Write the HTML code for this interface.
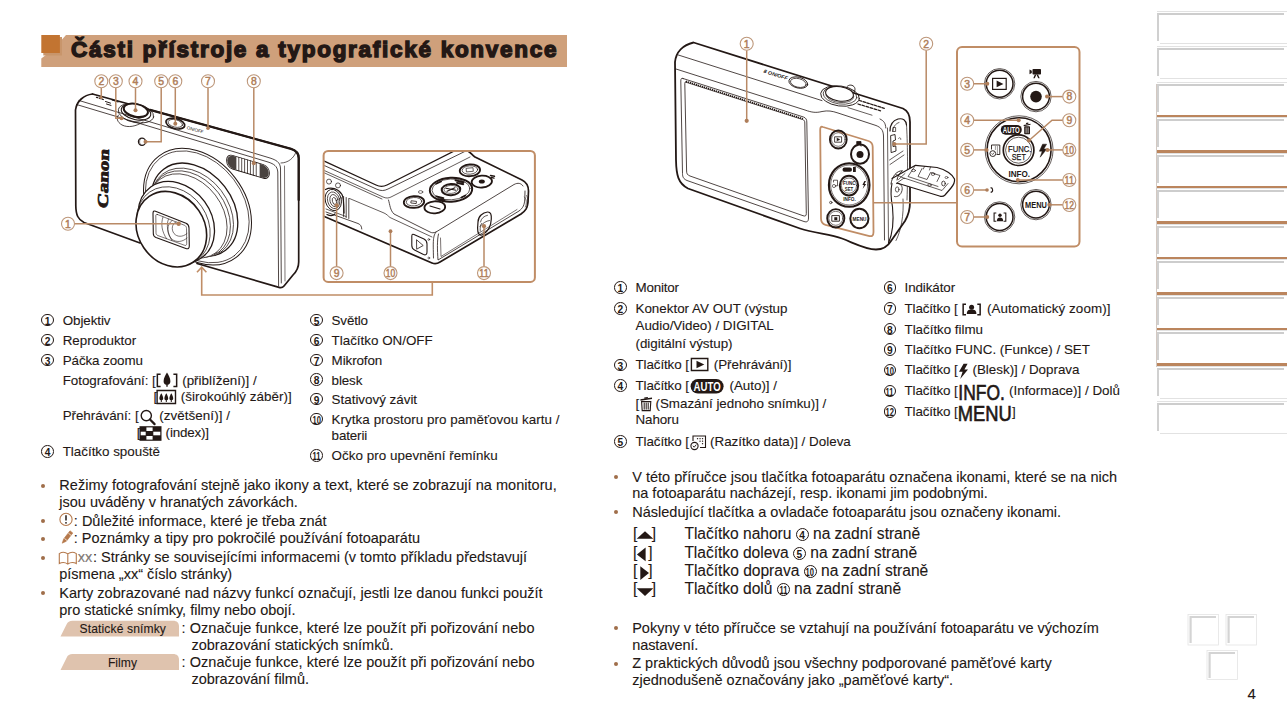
<!DOCTYPE html>
<html lang="cs">
<head>
<meta charset="utf-8">
<title>Části přístroje a typografické konvence</title>
<style>
html,body{margin:0;padding:0;background:#fff;}
body{width:1287px;height:720px;position:relative;overflow:hidden;font-family:"Liberation Sans",sans-serif;color:#231815;}
.abs{position:absolute;white-space:nowrap;}
.t,.b,.k,.tab,.pg{position:absolute;white-space:nowrap;color:#231815;-webkit-text-stroke:0.1px #231815;}
.t{font-size:13.4px;line-height:16px;}
.b{font-size:14.5px;line-height:17px;}
.k{font-size:15.6px;line-height:18px;}
.tab{font-size:12.1px;line-height:14px;}
.pg{font-size:15px;line-height:18px;}
.cn{display:inline-block;box-sizing:border-box;width:12.6px;height:12.6px;border:1px solid #231815;border-radius:50%;font-size:10.2px;line-height:13.2px;text-align:center;font-weight:bold;letter-spacing:-0.5px;text-indent:-0.5px;color:#231815;}
.ci{vertical-align:0.1px;width:13px;height:13px;line-height:13.4px;font-size:10.2px;-webkit-text-stroke:0;}
.cn i{display:inline-block;font-style:normal;transform:scaleX(0.74);letter-spacing:0;text-indent:0;margin:0 -3px;}
.bu{position:absolute;width:4px;height:4px;border-radius:50%;background:#a06e4a;}
#title{position:absolute;left:71px;top:35px;font-size:22.5px;line-height:30px;font-weight:bold;color:#231815;letter-spacing:1.72px;-webkit-text-stroke:1.45px #231815;white-space:nowrap;}
#svg{position:absolute;left:0;top:0;}
.tb{position:absolute;left:1157px;width:127px;height:28px;box-sizing:border-box;border-top:2px solid #cdcdcd;border-left:2.5px solid #d0d0d0;}
.tl{position:absolute;left:1157px;width:130px;height:1px;background:#e2e2e2;}
.bl{position:absolute;left:1156px;width:131px;height:2.8px;background:#bb855d;}

</style>
</head>
<body>
<svg class="abs" style="left:0;top:0" width="1287" height="720" viewBox="0 0 1287 720">
<polygon points="66,35 567,35 567,67 41.3,67 41.3,58.5 46.5,54.5 62,54.5 62,39.5" fill="#cfa07b"/>
<rect x="43.3" y="37" width="18.7" height="18.5" fill="#c8956b"/>
<rect x="41.3" y="35" width="18.6" height="18" fill="#c27431"/>
<g id="icons" fill="#231815" stroke="none">
<!-- tele icon -->
<path d="M156.6,373.6 h4 v1.5 h-2.5 v10.6 h2.5 v1.5 h-4 Z M177.4,373.6 h-4 v1.5 h2.5 v10.6 h-2.5 v1.5 h4 Z"/>
<path d="M167,372.6 c1.3,2 3.4,5.8 3.4,8.6 c0,2.2 -1.2,3.3 -2.7,3.5 v2 h-1.4 v-2 c-1.5,-0.2 -2.7,-1.3 -2.7,-3.5 c0,-2.8 2.1,-6.600 3.400,-8.600 Z"/>
<!-- wide icon -->
<path d="M156.4,389.8 h19.800 v14.400 h-19.800 Z M157.800,391.200 v11.600 h17 v-11.600 Z" fill-rule="evenodd"/>
<path d="M161.300,393.200 c0.800,1.300 1.900,3.400 1.900,5 c0,1.300 -0.600,1.900 -1.400,2.100 v1.700 h-1 v-1.700 c-0.800,-0.200 -1.400,-0.800 -1.400,-2.100 c0,-1.600 1.100,-3.700 1.900,-5 Z"/>
<path d="M166.300,393.200 c0.800,1.300 1.900,3.400 1.900,5 c0,1.300 -0.600,1.900 -1.400,2.100 v1.700 h-1 v-1.700 c-0.800,-0.200 -1.400,-0.800 -1.400,-2.100 c0,-1.600 1.100,-3.700 1.900,-5 Z"/>
<path d="M171.300,393.200 c0.800,1.300 1.900,3.400 1.900,5 c0,1.300 -0.600,1.900 -1.400,2.100 v1.700 h-1 v-1.700 c-0.800,-0.200 -1.400,-0.800 -1.400,-2.100 c0,-1.600 1.100,-3.700 1.900,-5 Z"/>
<!-- magnifier -->
<circle cx="146.300" cy="415.600" r="5.100" fill="none" stroke="#231815" stroke-width="1.400"/>
<path d="M150,419.500 l4.600,4.600" stroke="#231815" stroke-width="2.200" stroke-linecap="round"/>
<!-- index icon -->
<rect x="139.500" y="426.200" width="22" height="14.600" />
<g fill="#fff"><rect x="146.400" y="427.400" width="6.200" height="3.600"/><rect x="140.700" y="431.700" width="5" height="3.600"/><rect x="153.300" y="431.700" width="7" height="3.600"/><rect x="146.400" y="436" width="6.200" height="3.600"/></g>
<!-- playback icon -->
<path d="M690.700,357.800 h17.800 v13.400 h-17.800 Z M692.100,359.200 v10.600 h15 v-10.600 Z" fill-rule="evenodd"/>
<path d="M696.500,360.800 l7.800,3.700 l-7.800,3.700 Z"/>
<!-- AUTO pill -->
<rect x="690.600" y="379" width="33" height="14.600" rx="7.300"/>
<!-- trash -->
<path d="M641.600,401.600 h9.200 l-0.600,9 h-8 Z" fill="#fff" stroke="#231815" stroke-width="1.100"/><path d="M640.300,399.200 l11.600,-1.600 l0.200,1.500 l-11.600,1.600 Z M644.200,397.400 l3.600,-0.500 l0.150,1.200 l-3.600,0.500 Z"/>
<path d="M644.200,402.600 v7 M646.200,402.600 v7 M648.200,402.600 v7" stroke="#231815" stroke-width="1"/>
<!-- date stamp -->
<path d="M693,441 V436 H705.500 V447.500 H700" fill="none" stroke="#231815" stroke-width="1.100"/>
<path d="M697.500,438.700 h0.100 M700,438.700 h0.100 M702.500,438.700 h0.100 M700,441.200 h0.100 M702.500,441.200 h0.100 M702.500,443.700 h0.100" stroke="#231815" stroke-width="1.300" stroke-linecap="round"/>
<circle cx="694.500" cy="446" r="3.600" fill="#fff" stroke="#231815" stroke-width="1.100"/><path d="M692.900,445.800 l1.300,1.400 l2.100,-2.600" fill="none" stroke="#231815" stroke-width="0.900"/>
<!-- auto zoom icon -->
<path d="M966,303.500 h-3.600 v12 h3.600 v-1.500 h-2.100 v-9 h2.100 Z M977.300,303.500 h3.600 v12 h-3.600 v-1.500 h2.100 v-9 h-2.100 Z"/>
<circle cx="971.600" cy="307.300" r="2.500"/><path d="M966.800,314 c0,-3.600 2,-4.400 4.800,-4.400 c2.800,0 4.800,0.800 4.800,4.400 Z"/>
<!-- flash -->
<path d="M963.600,363.800 L959,371.800 L962.600,371.800 L960.200,379 L968,369.400 L964.400,369.400 L967.600,363.800 Z"/>
<!-- arrows -->
<path d="M645,531.200 l8.300,7.600 h-16.600 Z"/>
<path d="M636.900,554.400 l8.700,-6.800 v13.600 Z"/>
<path d="M649,573.100 l-8.700,-6.800 v13.600 Z"/>
<path d="M645,596 l8.300,-7.800 h-16.600 Z"/>
</g>
<g font-family="Liberation Sans, sans-serif" fill="#231815">
<text x="707.100" y="391.300" font-size="13.500" font-weight="bold" fill="#fff" text-anchor="middle" textLength="27" lengthAdjust="spacingAndGlyphs">AUTO</text>
<text x="958.300" y="399.600" font-size="22" textLength="46.500" lengthAdjust="spacingAndGlyphs" stroke="#231815" stroke-width="0.650">INFO.</text>
<text x="957.800" y="420.500" font-size="22" textLength="54" lengthAdjust="spacingAndGlyphs" stroke="#231815" stroke-width="0.650">MENU</text>
</g>
<!-- caution, pencil, book -->
<g fill="none" stroke="#b5794c">
<circle cx="66" cy="519.400" r="6.100" stroke-width="1.100"/>
<path d="M66,515.300 v5.200" stroke="#231815" stroke-width="1.500"/><circle cx="66" cy="522.800" r="0.900" fill="#231815" stroke="none"/>
<path d="M62.200,543.200 l1.400,-4.200 l6.400,-8.200 l2.800,2.200 l-6.400,8.200 Z" fill="#b5794c" stroke-width="0.600"/>
<path d="M64.500,538.500 l2.700,2.100 M68.400,533.200 l2.700,2.100" stroke="#fff" stroke-width="0.700"/>
<path d="M59.300,553.600 c2.600,-1.700 5.800,-1.700 8.500,0.300 c2.700,-2 5.900,-2 8.500,-0.300 v10 c-2.600,-1.400 -5.800,-1.400 -8.500,0.500 c-2.700,-1.900 -5.900,-1.900 -8.500,-0.500 Z M67.800,554 v10" stroke-width="1.1"/>
</g>
<!-- tab shapes -->
<path d="M60.500,636.600 L66.500,624.500 C67.800,621.800 69.500,620.700 72.500,620.700 L173,620.700 C177,620.700 179,622.700 179,626.700 L179,636.600 Z" fill="#dfc3ae"/>
<path d="M60.500,670 L66.500,657.900 C67.800,655.200 69.500,654.100 72.500,654.100 L173,654.100 C177,654.100 179,656.100 179,660.100 L179,670 Z" fill="#dfc3ae"/>
<!-- nav squares -->
<g fill="#fff" stroke="#e4e4e4" stroke-width="0.800">
<rect x="1188" y="614.500" width="30.500" height="30.500"/><rect x="1226" y="614.500" width="30.500" height="30.500"/><rect x="1207" y="650.500" width="30.500" height="29"/>
</g>
<g fill="none" stroke="#d4d4d4" stroke-width="2.200">
<path d="M1190.600,643 V617 H1216"/><path d="M1228.600,643 V617 H1254"/><path d="M1209.600,678 V653 H1235"/>
</g>

</svg>
<div id="title">Části přístroje a typografické konvence</div>
<div class="tl" style="top:10.7px"></div>
<div class="tb" style="top:12.9px"></div>
<div class="tl" style="top:42.9px;left:1160px"></div>
<div class="tl" style="top:46.2px"></div>
<div class="tb" style="top:48.4px"></div>
<div class="tl" style="top:78.4px;left:1160px"></div>
<div class="tl" style="top:81.7px"></div>
<div class="tb" style="top:83.9px"></div>
<div class="tl" style="top:117.2px"></div>
<div class="tb" style="top:119.4px"></div>
<div class="bl" style="top:114.5px"></div>
<div class="tl" style="top:152.7px"></div>
<div class="tb" style="top:154.9px"></div>
<div class="bl" style="top:150.0px"></div>
<div class="tl" style="top:188.2px"></div>
<div class="tb" style="top:190.4px"></div>
<div class="bl" style="top:185.5px"></div>
<div class="tl" style="top:223.7px"></div>
<div class="tb" style="top:225.9px"></div>
<div class="bl" style="top:221.0px"></div>
<div class="tl" style="top:259.2px"></div>
<div class="tb" style="top:261.4px"></div>
<div class="bl" style="top:256.5px"></div>
<div class="tl" style="top:294.7px"></div>
<div class="tb" style="top:296.9px"></div>
<div class="bl" style="top:292.0px"></div>
<div class="tl" style="top:330.2px"></div>
<div class="tb" style="top:332.4px"></div>
<div class="bl" style="top:327.5px"></div>
<div class="tl" style="top:365.7px"></div>
<div class="tb" style="top:367.9px"></div>
<div class="bl" style="top:363.0px"></div>
<div class="tl" style="top:397.9px;left:1160px"></div>
<div class="tl" style="top:401.2px"></div>
<div class="tb" style="top:403.4px"></div>
<div class="tl" style="top:433.4px;left:1160px"></div>
<div style="position:absolute;left:1156px;top:84px;width:1px;height:283px;background:#d3c9c2"></div>
<div class="t" style="left:62.7px;top:312.8px;letter-spacing:-0.084px;">Objektiv</div>
<div class="t" style="left:62.7px;top:332.8px;letter-spacing:-0.018px;">Reproduktor</div>
<div class="t" style="left:62.7px;top:352.8px;letter-spacing:-0.086px;">Páčka zoomu</div>
<div class="t" style="left:62.7px;top:444.3px;letter-spacing:-0.013px;">Tlačítko spouště</div>
<div class="t" style="left:62.7px;top:372.5px;letter-spacing:-0.044px;">Fotografování: [</div>
<div class="t" style="left:182.2px;top:372.5px;letter-spacing:0.005px;">(přiblížení)] /</div>
<div class="t" style="left:153.6px;top:388.5px;letter-spacing:0.000px;">[</div>
<div class="t" style="left:180.7px;top:388.5px;letter-spacing:0.050px;">(širokoúhlý záběr)]</div>
<div class="t" style="left:62.7px;top:408.3px;letter-spacing:-0.059px;">Přehrávání: [</div>
<div class="t" style="left:159.3px;top:408.3px;letter-spacing:0.057px;">(zvětšení)] /</div>
<div class="t" style="left:136.7px;top:424.8px;letter-spacing:0.000px;">[</div>
<div class="t" style="left:165.6px;top:424.8px;letter-spacing:-0.170px;">(index)]</div>
<div class="t" style="left:331.6px;top:312.8px;letter-spacing:-0.170px;">Světlo</div>
<div class="t" style="left:331.6px;top:332.8px;letter-spacing:-0.006px;">Tlačítko ON/OFF</div>
<div class="t" style="left:331.6px;top:352.8px;letter-spacing:-0.095px;">Mikrofon</div>
<div class="t" style="left:331.6px;top:372.5px;letter-spacing:-0.133px;">blesk</div>
<div class="t" style="left:331.6px;top:391.8px;letter-spacing:-0.006px;">Stativový závit</div>
<div class="t" style="left:331.6px;top:411.8px;letter-spacing:0.052px;">Krytka prostoru pro paměťovou kartu /</div>
<div class="t" style="left:331.6px;top:448.3px;letter-spacing:0.038px;">Očko pro upevnění řemínku</div>
<div class="t" style="left:331.6px;top:428.3px;letter-spacing:-0.141px;">baterii</div>
<div class="b" style="left:59.3px;top:476.9px;letter-spacing:0.033px;">Režimy fotografování stejně jako ikony a text, které se zobrazují na monitoru,</div>
<div class="b" style="left:59.3px;top:494.0px;letter-spacing:-0.002px;">jsou uváděny v hranatých závorkách.</div>
<div class="b" style="left:73.8px;top:512.5px;letter-spacing:0.015px;">: Důležité informace, které je třeba znát</div>
<div class="b" style="left:73.8px;top:530.2px;letter-spacing:0.008px;">: Poznámky a tipy pro pokročilé používání fotoaparátu</div>
<div class="b" style="left:77.8px;top:549.1px;letter-spacing:-0.050px;"><span style="color:#8a8280">xx</span></div>
<div class="b" style="left:93.0px;top:549.1px;letter-spacing:0.008px;">: Stránky se souvisejícími informacemi (v tomto příkladu představují</div>
<div class="b" style="left:59.3px;top:566.2px;letter-spacing:-0.013px;">písmena „xx“ číslo stránky)</div>
<div class="b" style="left:59.3px;top:584.7px;letter-spacing:0.029px;">Karty zobrazované nad názvy funkcí označují, jestli lze danou funkci použít</div>
<div class="b" style="left:59.3px;top:601.8px;letter-spacing:-0.010px;">pro statické snímky, filmy nebo obojí.</div>
<div class="b" style="left:181.5px;top:620.4px;letter-spacing:0.060px;">: Označuje funkce, které lze použít při pořizování nebo</div>
<div class="b" style="left:191.4px;top:637.4px;letter-spacing:0.024px;">zobrazování statických snímků.</div>
<div class="b" style="left:181.5px;top:653.5px;letter-spacing:0.060px;">: Označuje funkce, které lze použít při pořizování nebo</div>
<div class="b" style="left:191.4px;top:670.7px;letter-spacing:-0.004px;">zobrazování filmů.</div>
<div class="tab" style="left:79.6px;top:622.2px;letter-spacing:0.114px;">Statické snímky</div>
<div class="tab" style="left:107.9px;top:655.6px;letter-spacing:0.042px;">Filmy</div>
<div class="t" style="left:635.5px;top:279.8px;letter-spacing:-0.194px;">Monitor</div>
<div class="t" style="left:635.5px;top:300.8px;letter-spacing:-0.003px;">Konektor AV OUT (výstup</div>
<div class="t" style="left:635.5px;top:317.8px;letter-spacing:-0.018px;">Audio/Video) / DIGITAL</div>
<div class="t" style="left:635.5px;top:335.8px;letter-spacing:-0.028px;">(digitální výstup)</div>
<div class="t" style="left:635.5px;top:357.3px;letter-spacing:-0.103px;">Tlačítko [</div>
<div class="t" style="left:713.8px;top:357.3px;letter-spacing:-0.049px;">(Přehrávání)]</div>
<div class="t" style="left:635.5px;top:377.8px;letter-spacing:-0.103px;">Tlačítko [</div>
<div class="t" style="left:729.5px;top:377.8px;letter-spacing:-0.016px;">(Auto)] /</div>
<div class="t" style="left:635.5px;top:395.8px;letter-spacing:0.000px;">[</div>
<div class="t" style="left:655.5px;top:395.8px;letter-spacing:-0.014px;">(Smazání jednoho snímku)] /</div>
<div class="t" style="left:635.5px;top:412.3px;letter-spacing:-0.104px;">Nahoru</div>
<div class="t" style="left:635.5px;top:434.1px;letter-spacing:-0.103px;">Tlačítko [</div>
<div class="t" style="left:710.0px;top:434.1px;letter-spacing:0.005px;">(Razítko data)] / Doleva</div>
<div class="t" style="left:904.5px;top:279.8px;letter-spacing:-0.095px;">Indikátor</div>
<div class="t" style="left:904.5px;top:300.8px;letter-spacing:-0.133px;">Tlačítko [</div>
<div class="t" style="left:987.0px;top:300.8px;letter-spacing:0.076px;">(Automatický zoom)]</div>
<div class="t" style="left:904.5px;top:321.6px;letter-spacing:-0.027px;">Tlačítko filmu</div>
<div class="t" style="left:904.5px;top:341.8px;letter-spacing:0.008px;">Tlačítko FUNC. (Funkce) / SET</div>
<div class="t" style="left:904.5px;top:362.3px;letter-spacing:-0.133px;">Tlačítko [</div>
<div class="t" style="left:972.5px;top:362.3px;letter-spacing:-0.010px;">(Blesk)] / Doprava</div>
<div class="t" style="left:904.5px;top:383.3px;letter-spacing:-0.133px;">Tlačítko [</div>
<div class="t" style="left:1009.0px;top:383.3px;letter-spacing:0.006px;">(Informace)] / Dolů</div>
<div class="t" style="left:904.5px;top:404.1px;letter-spacing:-0.133px;">Tlačítko [</div>
<div class="t" style="left:1012.0px;top:404.1px;letter-spacing:0.000px;">]</div>
<div class="b" style="left:632.2px;top:468.7px;letter-spacing:0.017px;">V této příručce jsou tlačítka fotoaparátu označena ikonami, které se na nich</div>
<div class="b" style="left:632.2px;top:485.1px;letter-spacing:0.003px;">na fotoaparátu nacházejí, resp. ikonami jim podobnými.</div>
<div class="b" style="left:632.2px;top:503.6px;letter-spacing:0.014px;">Následující tlačítka a ovladače fotoaparátu jsou označeny ikonami.</div>
<div class="k" style="left:632.9px;top:524.9px;letter-spacing:0.000px;">[</div>
<div class="k" style="left:651.8px;top:524.9px;letter-spacing:0.000px;">]</div>
<div class="k" style="left:684.4px;top:524.9px;letter-spacing:-0.032px;">Tlačítko nahoru <span class="cn ci">4</span> na zadní straně</div>
<div class="k" style="left:632.9px;top:543.8px;letter-spacing:0.000px;">[</div>
<div class="k" style="left:648.2px;top:543.8px;letter-spacing:0.000px;">]</div>
<div class="k" style="left:684.4px;top:543.8px;letter-spacing:-0.041px;">Tlačítko doleva <span class="cn ci">5</span> na zadní straně</div>
<div class="k" style="left:632.9px;top:562.0px;letter-spacing:0.000px;">[</div>
<div class="k" style="left:648.2px;top:562.0px;letter-spacing:0.000px;">]</div>
<div class="k" style="left:684.4px;top:562.0px;letter-spacing:-0.020px;">Tlačítko doprava <span class="cn ci"><i>10</i></span> na zadní straně</div>
<div class="k" style="left:632.9px;top:580.4px;letter-spacing:0.000px;">[</div>
<div class="k" style="left:651.8px;top:580.4px;letter-spacing:0.000px;">]</div>
<div class="k" style="left:684.4px;top:580.4px;letter-spacing:-0.029px;">Tlačítko dolů <span class="cn ci"><i>11</i></span> na zadní straně</div>
<div class="b" style="left:632.2px;top:619.5px;letter-spacing:0.012px;">Pokyny v této příručce se vztahují na používání fotoaparátu ve výchozím</div>
<div class="b" style="left:632.2px;top:636.5px;letter-spacing:-0.082px;">nastavení.</div>
<div class="b" style="left:632.2px;top:655.4px;letter-spacing:0.023px;">Z praktických důvodů jsou všechny podporované paměťové karty</div>
<div class="b" style="left:632.2px;top:672.4px;letter-spacing:0.007px;">zjednodušeně označovány jako „paměťové karty“.</div>
<div class="pg" style="left:1247.5px;top:684.5px;letter-spacing:0.000px;">4</div>
<span class="cn abs" style="left:41.2px;top:313.6px">1</span>
<span class="cn abs" style="left:41.2px;top:333.6px">2</span>
<span class="cn abs" style="left:41.2px;top:353.6px">3</span>
<span class="cn abs" style="left:41.2px;top:445.1px">4</span>
<span class="cn abs" style="left:310.3px;top:313.6px">5</span>
<span class="cn abs" style="left:310.3px;top:333.6px">6</span>
<span class="cn abs" style="left:310.3px;top:353.6px">7</span>
<span class="cn abs" style="left:310.3px;top:373.3px">8</span>
<span class="cn abs" style="left:310.3px;top:392.6px">9</span>
<span class="cn abs" style="left:310.3px;top:412.6px"><i>10</i></span>
<span class="cn abs" style="left:310.3px;top:449.1px"><i>11</i></span>
<span class="cn abs" style="left:614.1px;top:281.1px">1</span>
<span class="cn abs" style="left:614.1px;top:302.1px">2</span>
<span class="cn abs" style="left:614.1px;top:358.6px">3</span>
<span class="cn abs" style="left:614.1px;top:379.1px">4</span>
<span class="cn abs" style="left:614.1px;top:435.4px">5</span>
<span class="cn abs" style="left:883.6px;top:281.1px">6</span>
<span class="cn abs" style="left:883.6px;top:302.1px">7</span>
<span class="cn abs" style="left:883.6px;top:322.9px">8</span>
<span class="cn abs" style="left:883.6px;top:343.1px">9</span>
<span class="cn abs" style="left:883.6px;top:363.6px"><i>10</i></span>
<span class="cn abs" style="left:883.6px;top:384.6px"><i>11</i></span>
<span class="cn abs" style="left:883.6px;top:405.4px"><i>12</i></span>
<div class="bu" style="left:40.9px;top:483.6px"></div>
<div class="bu" style="left:40.9px;top:519.2px"></div>
<div class="bu" style="left:40.9px;top:536.9px"></div>
<div class="bu" style="left:40.9px;top:555.8px"></div>
<div class="bu" style="left:40.9px;top:591.4px"></div>
<div class="bu" style="left:614.0px;top:475.3px"></div>
<div class="bu" style="left:614.0px;top:510.2px"></div>
<div class="bu" style="left:613.7px;top:626.3px"></div>
<div class="bu" style="left:613.7px;top:662.2px"></div>
<svg id="svg" width="1287" height="720" viewBox="0 0 1287 720">
<g id="camL" fill="none" stroke="#231815" stroke-linecap="round" stroke-linejoin="round">
<!-- body outline -->
<path d="M92.5,94 C84,95 76.5,101 75.5,110 L75.8,206 C76,215 78,219.5 84,222.5 L140,243" stroke-width="1.7"/>
<path d="M92.5,94 L291,148.8 C296.5,150.5 298.7,153 298.7,158 L298.7,262 C298.7,268 297,271 293,275 L284,286 C282.5,287.8 281,288 279,287.4 L197,263.5" stroke-width="1.7"/>
<path d="M150,109.9 L291,148.8 C296.5,150.5 298.7,153 298.7,158 L298.7,200" stroke-width="2.3"/>
<!-- top plate front edges -->
<path d="M79,100.5 L270,158 C276,160 280,162 280.5,168 L281.3,283" stroke-width="0.8"/>
<path d="M76.5,104.5 L268,162 C274,164 277.3,166 277.8,172 L278.6,286" stroke-width="0.8"/>
<path d="M284.5,166 L285,281" stroke-width="0.6"/>
<path d="M281,163 C288,163 294,158 296,152" stroke-width="0.7"/>
<!-- lens mount rings -->
<ellipse cx="197.5" cy="206.7" rx="63.7" ry="47.4" transform="rotate(52.6 197.5 206.7)" stroke-width="1.0" fill="none"/>
<ellipse cx="197.3" cy="206.9" rx="61.3" ry="45.6" transform="rotate(52.6 197.3 206.9)" stroke-width="0.7" fill="none"/>
<ellipse cx="194.6" cy="209.7" rx="51.0" ry="37.9" transform="rotate(52.6 194.6 209.7)" stroke-width="1.3" fill="#fff"/>
<ellipse cx="192.3" cy="212.6" rx="48.7" ry="36.3" transform="rotate(52.6 192.3 212.6)" stroke-width="0.7" fill="#fff"/>
<ellipse cx="190.3" cy="214.2" rx="47.5" ry="35.3" transform="rotate(52.6 190.3 214.2)" stroke-width="0.7" fill="#fff"/>
<ellipse cx="188" cy="216" rx="46.2" ry="34.4" transform="rotate(52.6 188 216)" stroke-width="0.7" fill="#fff"/>
<ellipse cx="176.3" cy="222.3" rx="43.6" ry="35" transform="rotate(54 176.3 222.3)" stroke-width="1.3" fill="#fff"/>
<ellipse cx="173.5" cy="226" rx="41.5" ry="34.2" transform="rotate(55 173.5 226)" stroke-width="0.7" fill="#fff"/>
<ellipse cx="171.3" cy="229.2" rx="39.6" ry="33.2" transform="rotate(56 171.3 229.2)" stroke-width="1.6" fill="#fff"/>
<!-- lens window -->
<path d="M155.5,211.2 L186,223.2 C188.3,224.2 189,225.5 189,228 L189.3,246 C189.3,248.5 188,249.3 185.8,248.5 L156,237.6 C154,236.8 153.3,235.8 153.3,233.5 L153,213.5 C153,211.2 153.8,210.5 155.5,211.2 Z" stroke-width="1.1"/>
<path d="M157.5,214.5 L184.5,225.3 C186,226 186.5,227 186.5,228.5 L186.7,243.5 C186.7,245.3 185.8,245.8 184.3,245.2 L158,235.6 C156.5,235 156,234.2 156,232.6 L155.8,216 C155.8,214.5 156.3,214 157.5,214.5 Z" stroke-width="0.6"/>
<path d="M163,217 C160.5,224 162,232 166.5,238.6" stroke-width="0.6"/>
<path d="M168.5,219 C166,225 167.5,233 172,240.6" stroke-width="0.6"/>
<path d="M187,238 C182,242.5 176,242.5 171.5,239 C166.5,234 166.5,224 172,220.6" stroke-width="0.6"/>
<path d="M187,233.5 C182.5,237.5 177,237 174,233.5 C171,229.5 172,223.5 176,222" stroke-width="0.6"/>
<!-- shutter / zoom ring -->
<ellipse cx="136" cy="113.3" rx="18" ry="9.3" stroke-width="0.8" transform="rotate(12 136 113.3)"/>
<ellipse cx="136" cy="112" rx="15" ry="7.6" stroke-width="1.1" transform="rotate(12 136 112)"/>
<ellipse cx="135.8" cy="110.3" rx="12.3" ry="6.3" stroke-width="2" fill="#fff" transform="rotate(12 135.8 110.3)"/>
<path d="M123.6,109 C123.4,112 127,116 135,117.5 C143,118.6 148,116 148.2,113" stroke-width="0.8"/>
<path d="M118.5,115 C116,118 117,122 122,125 C128,128 136,126.5 143,122" stroke-width="0.8"/>
<path d="M127,120.3 C132,122 138,122 143,120" stroke-width="0.6"/>
<!-- top plate small print near speaker -->
<path d="M96.5,97.3 l1.2,0.4 M99.3,98.2 l1.2,0.4 M102.1,99.1 l1.2,0.4" stroke-width="1.3"/>
<path d="M105.5,101.5 l5,1.6 M106.5,104 l4.5,1.4 M112,100 l6,2" stroke-width="1"/>
<!-- power button -->
<ellipse cx="175.3" cy="123.6" rx="9.6" ry="5" stroke-width="1.7" transform="rotate(14 175.3 123.6)"/>
<ellipse cx="175.3" cy="123.4" rx="7.4" ry="3.7" stroke-width="0.7" transform="rotate(14 175.3 123.4)"/>
<text transform="translate(186.6,129) rotate(15.5)" font-family="Liberation Sans, sans-serif" font-size="4.6" fill="#231815" stroke="none" textLength="17" lengthAdjust="spacingAndGlyphs">ON/OFF</text>
<!-- AF lamp -->
<circle cx="142" cy="141.7" r="3.6" stroke-width="1.2"/>
<path d="M140.3,139.2 C139,141 139.3,143.5 141,145" stroke-width="0.6"/>
<!-- flash -->
<g transform="translate(248,166.8) matrix(0.97,0.29,0,1,0,0) translate(-248,-166.8)">
<rect x="226" y="160" width="44" height="13.6" rx="6" stroke-width="0.9" fill="#fff"/>
<path d="M232,160.3 C228,161.5 226.6,164 226.6,166.8 C226.6,169.6 228,172.3 232,173.3 L236,173.3 L236,160.3 Z" fill="#4a4340" stroke="none"/>
<path d="M264,160.3 C268,161.5 269.4,164 269.4,166.8 C269.4,169.6 268,172.3 264,173.3 L260,173.3 L260,160.3 Z" fill="#4a4340" stroke="none"/>
<path d="M238.5,160.2 v13.4 M241.5,160.2 v13.4 M244.5,160.2 v13.4 M247.5,160.2 v13.4 M250.5,160.2 v13.4 M253.5,160.2 v13.4 M256.5,160.2 v13.4" stroke-width="0.7"/>
</g>
</g>
<!-- Canon logo -->
<text transform="translate(107.8,209) rotate(-89) scale(1.4,1) skewX(-6)" font-family="Liberation Serif, serif" font-weight="bold" font-size="15" fill="#231815" stroke="#231815" stroke-width="0.7">Canon</text>
<!-- callouts left -->
<g stroke="#b98a66" stroke-width="1.5" fill="none">
<path d="M101.3,88 V97"/><path d="M115.8,88 V118.3 H121"/><path d="M135.5,88 V110"/><path d="M161.2,88 V141.7 H146"/><path d="M175.3,88 V123.5"/><path d="M208,88 V128"/><path d="M253.8,88 V163"/><path d="M74.5,223.7 H178.5"/>
</g>
<g fill="#ae7d59">
<circle cx="101" cy="97.5" r="1.6"/><circle cx="121.5" cy="118.3" r="2"/><circle cx="135.5" cy="110.3" r="2"/><circle cx="145.5" cy="141.7" r="2"/><circle cx="175.3" cy="123.7" r="2"/><circle cx="208" cy="128.3" r="1.8"/><circle cx="253.8" cy="163.3" r="2"/><circle cx="178.7" cy="223.7" r="2.2"/>
</g>

<g id="inset">
<rect x="323.6" y="151" width="211.3" height="130.9" rx="4.5" fill="#fff" stroke="#c08d66" stroke-width="2"/>
<clipPath id="cpI"><rect x="324.6" y="152" width="209.3" height="128.9" rx="3.5"/></clipPath>
<g clip-path="url(#cpI)" fill="none" stroke="#231815" stroke-linecap="round" stroke-linejoin="round">
<!-- LCD V edges -->
<path d="M322,160 L376,185 C380,187 383,187 387,185 L470,143" stroke-width="1.3"/>
<path d="M322,164.5 L377,189.3 C381,191 384,191 388,189 L476,146" stroke-width="0.8"/>
<path d="M322,169.5 L383,197 C386,198.4 388.5,198.3 391,197 L470,157" stroke-width="0.7"/>
<path d="M322,171.8 L382,199" stroke-width="0.7"/>
<!-- camera top/right thick outline -->
<path d="M465,150 C470,151 471,154 475,157 L522,180 C527,182.5 528.5,186 528.5,191 L528,202 C527.5,208 526,210.5 521,214 L440,262 C437,264 435,264.3 432,263 L322,215.5" stroke-width="1.7"/>
<!-- side face lines -->
<path d="M388.5,200 C390,205 390,210 394,214 L430,232 C432,233 433.5,233 436,232 L514,184.5 C518,182.5 521,183 523,186" stroke-width="0.8"/>
<path d="M436,232 C433,236 433,240 433.5,258" stroke-width="0.8"/>
<path d="M438.5,234 C437,240 437.3,250 438,260 L519,211 C523,208 524.5,205 524.8,199 L525,191" stroke-width="0.8"/>
<path d="M440.5,238 L441,256.5 L517,209.5" stroke-width="0.6"/>
<!-- battery door -->
<path d="M349.5,198.5 L384,213 C387,214.3 388,216 390,217.5 L432,237" stroke-width="0.7"/>
<path d="M343.6,196.5 V216.5 M346.2,197.5 V217.5 M348.8,198.5 V218.5" stroke-width="0.8"/>
<path d="M326,212 L358,223.5 C360.5,224.5 361.5,226 361.8,229" stroke-width="0.8"/>
<path d="M326,209 L346,216.5" stroke-width="0.7"/>
<!-- latch -->
<path d="M414,234.5 L424,239 C426.5,240.3 427,242 427,244 L427,252 C427,254.7 425.5,255.4 423.5,254.5 L414.5,250 C412.5,249 411.8,247.5 411.8,245.5 L411.8,236.5 C411.8,234.3 412.5,233.8 414,234.5 Z" stroke-width="1.1"/>
<path d="M416.8,240 L423.2,245.5 L417,249 Z" stroke-width="0.8"/>
<circle cx="428.8" cy="239.5" r="0.9" stroke-width="0.6"/><circle cx="428.8" cy="258" r="0.9" stroke-width="0.6"/>
<!-- tripod socket -->
<circle cx="329" cy="181.6" r="2.5" stroke-width="0.7"/><circle cx="338" cy="185.4" r="2.5" stroke-width="0.7"/>
<path d="M325.5,189.5 C331,186.5 338,188.5 342,194.5 C343.5,197 343.8,200 344,213" stroke-width="1.3"/>
<ellipse cx="333.3" cy="200" rx="8" ry="10.8" stroke-width="0.9" transform="rotate(-15 333.3 200)"/>
<ellipse cx="333.6" cy="200.3" rx="6" ry="8.5" stroke-width="0.7" transform="rotate(-15 333.6 200.3)"/>
<ellipse cx="334" cy="200.6" rx="4" ry="6.2" stroke-width="0.7" transform="rotate(-15 334 200.6)"/>
<ellipse cx="334.4" cy="201" rx="2" ry="3.6" stroke-width="0.7" transform="rotate(-15 334.4 201)"/>
<path d="M327,214.5 C331,216.5 333,216 335,214" stroke-width="1.2"/>
<!-- buttons -->
<g transform="rotate(-3 451 189.7)">
<ellipse cx="451" cy="189.7" rx="21.2" ry="12" stroke-width="2"/>
<ellipse cx="451" cy="189.4" rx="19" ry="10.4" stroke-width="0.7"/>
<ellipse cx="451" cy="189.6" rx="9.3" ry="5.6" stroke-width="2"/>
<ellipse cx="451" cy="189.4" rx="7" ry="4" stroke-width="0.6"/>
<path d="M446,188 l10,2.5 M447,191 l8,-3" stroke-width="1.2"/>
<path d="M456,180.6 l8,2.4 M457.5,183.2 l6,1.6" stroke-width="2"/>
<path d="M436,195.6 l7,2 M438,198.4 l6,1.400" stroke-width="1.8"/>
<path d="M436.500,183 l5,-2 M461,198 l4,-1.800" stroke-width="1.800"/>
</g>
<ellipse cx="469.9" cy="170.3" rx="10.2" ry="5.9" stroke-width="1.8" transform="rotate(-4 469.9 170.3)"/>
<ellipse cx="469.9" cy="170" rx="7.8" ry="4.2" stroke-width="0.7" transform="rotate(-4 469.9 170)"/>
<path d="M466.5,168.3 l6.5,-0.6 l0.3,3.6 l-6.5,0.6 Z" stroke-width="0.7"/>
<ellipse cx="481.8" cy="181.6" rx="10.2" ry="5.9" stroke-width="1.8" transform="rotate(-4 481.8 181.6)"/>
<ellipse cx="481.8" cy="181.4" rx="3" ry="2" fill="#231815" stroke="none"/>
<path d="M490.5,175.5 l4,0.8 M491.5,177.5 l2.5,0.6" stroke-width="1.4"/>
<ellipse cx="414" cy="202" rx="10.2" ry="5.9" stroke-width="1.8" transform="rotate(-4 414 202)"/>
<ellipse cx="414" cy="201.7" rx="7.8" ry="4.2" stroke-width="0.7" transform="rotate(-4 414 201.7)"/>
<path d="M411.5,200.8 l5,0.6 l-0.3,2.2 l-5,-0.6 Z" stroke-width="0.8"/>
<ellipse cx="434.8" cy="207.3" rx="10.4" ry="6" stroke-width="1.8" transform="rotate(-4 434.8 207.3)"/>
<path d="M430,206 l10,3" stroke-width="1.2"/>
<ellipse cx="420.6" cy="192" rx="2.2" ry="1.4" stroke-width="0.6"/>
<!-- strap lug -->
<path d="M478,222 C478,216 483,212.5 487.5,212 C491,211.8 491.5,215 491.3,219 C491,226 488,231.5 483,234.5 C479,236.5 477.5,233 477.6,228 Z" stroke-width="1.2"/>
<path d="M480.5,222 C481,218.5 484,216 487.5,215.3 M480,226.5 C483,223 486,221 489.5,220.5 M480.2,231 C480,227 480.5,225 481.5,223.5" stroke-width="0.7"/>
<!-- right side ridges -->
<path d="M524.5,197 C526.5,199 527,203 525.5,207 M526.5,195.5 C528.5,199 528.3,204 526.5,208.5" stroke-width="0.6"/>
</g>
<!-- inset leaders -->
<g stroke="#b98a66" stroke-width="1.5" fill="none"><path d="M336.6,266.5 V205.5"/><path d="M390.5,266.5 V231.3"/><path d="M484,266.5 V226.3"/></g>
<g fill="#ae7d59"><circle cx="336.7" cy="205.3" r="2.1"/><circle cx="390.5" cy="231.2" r="1.9"/><circle cx="484" cy="226.2" r="2.1"/></g>
<!-- arrow -->
<path d="M432.3,282.5 V295 H201.7 V268" fill="none" stroke="#c08d66" stroke-width="1.6"/>
<path d="M197,272.2 L201.7,267.2 L206.4,272.2" fill="none" stroke="#c08d66" stroke-width="1.6"/>
</g>

<g id="camR" fill="none" stroke="#231815" stroke-linecap="round" stroke-linejoin="round">
<!-- body outline -->
<path d="M693.5,42.5 C683,45 676,52 675,62 L676,160 C676.3,175 678,183 688,188.5 L800,228.5 C815,233.5 830,234 842,238.5 C856,244 866,249.5 876,249.5 C884,249.5 888,246 891,241 L905,221 C908.5,215 910,210 910,202 L910,122 C910,115 908.5,111 903,108.5 L693.5,42.5 Z" stroke-width="1.8"/>
<!-- top plate lines -->
<path d="M678.3,55 L822,100.6 M880,119 C884,121 885.5,123 885.8,128" stroke-width="0.8"/>
<path d="M676,69 L805,110 C812,112.5 816,113 822,111.5 C828,110.3 832,111 838,113 L876,125.5 C881,127.5 883.3,130 883.5,136 L884.5,240" stroke-width="0.8"/>
<path d="M887.5,128 L888.5,243" stroke-width="0.7"/>
<!-- LCD frame -->
<path d="M683,78.5 L803.5,117 C806,118 806.8,119.5 806.8,122 L808.5,218 C808.5,221.5 807,222.5 804,221.5 L687,180.5 C683.5,179 682.5,177 682.5,173.5 L680.8,81 C680.8,78.5 681.5,78 683,78.5 Z" stroke-width="0.8"/>
<path d="M686,82.2 L802.5,119.5 C804.3,120.2 804.8,121 804.8,123 L806.3,213.5 C806.3,216 805.3,216.5 803,215.7 L690,176 C687.3,175 686.6,173.5 686.6,171 L684.8,83.5 C684.8,82 685.2,81.9 686,82.2 Z" stroke-width="0.8"/>
<path d="M686,81.3 L803,118.8" stroke-width="1.6" stroke-dasharray="1.2 0.9" stroke-linecap="butt"/>
<!-- power button + label -->
<ellipse cx="798.3" cy="82.6" rx="9.6" ry="5.4" stroke-width="0.9" transform="rotate(14 798.3 82.6)"/>
<ellipse cx="798.3" cy="82.9" rx="8" ry="4.3" stroke-width="0.7" transform="rotate(14 798.3 82.9)"/>
<text transform="translate(763.3,72.6) rotate(17.5)" font-family="Liberation Sans, sans-serif" font-size="5" font-style="italic" font-weight="bold" fill="#231815" stroke="none" textLength="25" lengthAdjust="spacingAndGlyphs">8 ON/OFF</text>
<!-- shutter / zoom -->
<ellipse cx="840" cy="96" rx="19.5" ry="10" stroke-width="0.9" transform="rotate(8 840 96)"/>
<ellipse cx="840" cy="95.4" rx="17" ry="8.6" stroke-width="0.7" transform="rotate(8 840 95.4)"/>
<ellipse cx="839.5" cy="93.8" rx="14" ry="7.2" stroke-width="1.1" fill="#fff" transform="rotate(8 839.5 93.8)"/>
<path d="M847,86.6 C849,84.2 853,84.6 854.6,87.5 C855.3,89 855,90.5 854.3,92" stroke-width="0.9"/>
<path d="M826,95 C827,99 833,102 841,102.5 C849,102.8 853.5,100 853.8,96.5" stroke-width="0.7"/>
<path d="M859.5,100.5 l2,0.7 M863,101.6 l2.5,0.8 M866.8,102.8 l2.5,0.8 M870.6,104 l2.5,0.8 M874.4,105.2 l2.5,0.8 M878.2,106.4 l2.5,0.8 M882,107.6 l2.3,0.7" stroke-width="1.3"/>
<path d="M858,104 l2.5,0.8 M862,105.2 l2.5,0.8 M866,106.4 l2.5,0.8 M870,107.6 l2.5,0.8 M874,108.8 l2.5,0.8 M878,110 l2.5,0.8" stroke-width="1.3"/>
<path d="M848,107.6 l24,7.6" stroke-width="0.7"/>
<!-- side face: strap lug, port -->
<path d="M890,131 C890,125 893,120.5 898,119 C903,118 906,120 906.5,125" stroke-width="1.2"/>
<path d="M892.5,131.5 C893,127 895.5,123.5 899,122.5" stroke-width="0.7"/>
<path d="M906.5,125 C907.5,140 908,170 907,200" stroke-width="0.7"/>
<rect x="893.3" y="127.5" width="2.3" height="4" stroke-width="0.7"/>
<path d="M891,135.5 L895,134.5 L895.5,140 L893,141 L893,146.5 L895.8,146 L896,151 L891.5,152.5 Z" stroke-width="0.9"/>
<path d="M898.5,138.5 c1,-1.5 2.5,-1 2.3,1" stroke-width="0.6"/>
<path d="M889.5,160 L903,151 M890,164.5 L904,155" stroke-width="0.7"/>
<!-- port cover flap -->
<path d="M892,178.5 L915.5,165.3 L937,167.5 C946,169.5 953,175 954.5,179 C955,182 953.5,185 951,188 L945,195 C943.5,196.5 941.5,196.8 939.5,196 L897,183" stroke-width="1.2" fill="#fff"/>
<path d="M897,183 L904,178 L942,190.5 L948,183.5" stroke-width="0.7"/>
<path d="M915.5,165.3 L908,176.5 L938,186.5" stroke-width="0.7"/>
<path d="M922,168.5 L918,176.5 L927,179.5 L930.5,172.5 L940,175.5 L937,181.5" stroke-width="0.7"/>
<path d="M924.5,166.5 l-1.2,2.6 M930.5,167 l-1,3" stroke-width="0.7"/>
<ellipse cx="913.5" cy="170.5" rx="2" ry="1.2" stroke-width="0.6"/><ellipse cx="933" cy="174" rx="1.8" ry="1.5" stroke-width="0.6"/><ellipse cx="929.5" cy="185" rx="1.8" ry="1.2" stroke-width="0.6"/><ellipse cx="943.5" cy="183.5" rx="1.8" ry="2.4" stroke-width="0.8"/><ellipse cx="946.5" cy="177.5" rx="1.5" ry="1" stroke-width="0.6"/>
<!-- hinge loop -->
<path d="M891,184 C892,176 897,170.5 902.5,170.8 C900,172.5 897.5,176 897,180" stroke-width="0.9"/>
<path d="M892,183.5 C890.5,190 891,199 892.5,207 C894,222 892,235 888.5,243" stroke-width="1.1"/>
<path d="M896.5,183.5 C900.5,183 903,186 902,190.5 C901,195 897.5,197.5 894.5,196.5" stroke-width="0.8"/>
<ellipse cx="897.2" cy="189.5" rx="1.8" ry="2.6" stroke-width="0.7"/>
<path d="M896,174.5 l8.5,4 M905,173.5 l-6.5,6" stroke-width="0.7"/>
<path d="M903,199 C904,215 901,231 896,240.5" stroke-width="0.7"/>
<!-- button zone -->
<path d="M823,127 L868.5,141 C871.5,142 872.7,143.5 872.7,147 L873.5,232 C873.5,235.8 872,236.8 868.5,235.8 L825.5,224.8 C822,223.8 821,222 821,218.5 L820.2,130 C820.2,127 821,126.3 823,127 Z" stroke="#c08d66" stroke-width="1.8"/>
<!-- buttons on body -->
<ellipse cx="838.3" cy="139.5" rx="8.4" ry="9" stroke-width="1.9"/><circle cx="838.3" cy="139.5" r="6.8" stroke-width="0.6"/>
<rect x="835" y="136.8" width="6.6" height="5.4" stroke-width="0.8"/><path d="M837,138 l3,1.5 l-3,1.5 Z" fill="#231815" stroke-width="0.3"/>
<ellipse cx="860" cy="154.2" rx="9" ry="9.6" stroke-width="2"/><circle cx="860" cy="154.4" r="3.5" fill="#231815" stroke="none"/>
<path d="M857,141.5 h4 v2.4 h-4 Z M858,144.2 l-1,2 M860,144.2 l1,2" stroke-width="0.8" fill="#231815"/>
<ellipse cx="849.2" cy="185" rx="20.3" ry="21.8" stroke-width="2.1"/><ellipse cx="849.2" cy="185" rx="18.5" ry="20" stroke-width="0.6"/>
<ellipse cx="849" cy="185.6" rx="9.2" ry="9.8" stroke-width="2"/><circle cx="849" cy="185.6" r="7.6" stroke-width="0.6"/>
<rect x="842.5" y="167.6" width="9.5" height="4.2" rx="2.1" fill="#231815" stroke="none"/><rect x="853" y="167" width="2.8" height="5" fill="#231815" stroke="none"/>
<path d="M864.4,181 l-2,4 h1.6 l-1.4,4 l3.6,-5 h-1.7 l1.5,-3 Z" fill="#231815" stroke="none"/>
<path d="M833.5,182 v-1.8 h4 v5.6 h-1.5" stroke-width="0.7"/><circle cx="834" cy="186" r="1.6" stroke-width="0.6"/>
<circle cx="830.8" cy="202.5" r="1.2" stroke-width="0.7"/>
<ellipse cx="835.8" cy="218.3" rx="8.6" ry="9.2" stroke-width="1.9"/><circle cx="835.8" cy="218.3" r="7" stroke-width="0.6"/>
<rect x="832.2" y="215.6" width="7.2" height="5.6" stroke-width="0.9"/><rect x="834.3" y="217.2" width="3" height="3" fill="#231815" stroke="none"/>
<ellipse cx="859.4" cy="218.5" rx="9.1" ry="9.7" stroke-width="2"/>
</g>
<g font-family="Liberation Sans, sans-serif" font-weight="bold" fill="#231815" text-anchor="middle">
<text x="849.3" y="185" font-size="5.4" textLength="12.5" lengthAdjust="spacingAndGlyphs">FUNC</text>
<text x="849" y="190.6" font-size="5.4" textLength="8.5" lengthAdjust="spacingAndGlyphs">SET</text>
<text x="849.5" y="200.8" font-size="5.6" textLength="12.5" lengthAdjust="spacingAndGlyphs">INFO.</text>
<text x="859.5" y="220.6" font-size="5.8" textLength="14" lengthAdjust="spacingAndGlyphs">MENU</text>
</g>
<!-- leaders -->
<g stroke="#b98a66" stroke-width="1.5" fill="none"><path d="M746.7,50.2 V120.5"/><path d="M926.2,50.2 V144 H894.5"/></g>
<g fill="#ae7d59"><circle cx="746.7" cy="120.8" r="2.1"/><circle cx="894.3" cy="144" r="2.1"/></g>

<g id="detail">
<rect x="957" y="47" width="122.5" height="199.6" rx="5" fill="#fff" stroke="#c08d66" stroke-width="2"/>
<g fill="none" stroke="#231815">
<!-- playback button -->
<circle cx="999.6" cy="83.75" r="15.2" stroke-width="0.7"/><circle cx="999.6" cy="83.75" r="13.4" stroke-width="1.5"/>
<rect x="992.6" y="78.4" width="13.6" height="11" stroke-width="1.2"/>
<path d="M996.6,80.6 L1003.4,83.9 L996.6,87.2 Z" fill="#231815" stroke="none"/>
<!-- movie button -->
<circle cx="1036" cy="96.6" r="15.2" stroke-width="0.7"/><circle cx="1036" cy="96.6" r="13.4" stroke-width="1.5"/>
<circle cx="1036" cy="96.6" r="5.8" fill="#231815" stroke="none"/>
<!-- movie icon -->
<g fill="#231815" stroke="none"><rect x="1032.5" y="69" width="8.5" height="5.6" rx="0.8"/><path d="M1029.5,69.6 l2.3,1.2 v2.2 l-2.3,1.2 Z"/><path d="M1034.8,74.6 h1.6 l-1.6,3.6 h-1.5 Z M1038,74.6 h-1.6 l1.8,3.6 h1.5 Z"/></g>
<!-- 4-way -->
<circle cx="1019.1" cy="149.8" r="34" stroke-width="0.7"/><circle cx="1019.1" cy="149.8" r="32" stroke-width="1.6"/>
<circle cx="1018.6" cy="150.2" r="15.3" stroke-width="1.7"/><circle cx="1018.6" cy="150.2" r="13" stroke-width="0.7"/>
<!-- menu button -->
<circle cx="1036" cy="204.6" r="15.2" stroke-width="0.7"/><circle cx="1036" cy="204.6" r="13.4" stroke-width="1.5"/>
<!-- zoom button -->
<circle cx="999.6" cy="217" r="15.2" stroke-width="0.7"/><circle cx="999.6" cy="217" r="13.4" stroke-width="1.5"/>
<path d="M996.3,213 h-2.2 v8.2 h2.2 M1003.6,213 h2.2 v8.2 h-2.2" stroke-width="1.1"/>
<g fill="#231815" stroke="none"><circle cx="1000" cy="215.3" r="1.7"/><path d="M996.8,221.2 c0,-3 1.4,-3.8 3.2,-3.8 c1.8,0 3.2,0.8 3.2,3.8 Z"/></g>
<!-- indicator arc -->
<path d="M990.6,187.6 C993.3,187.8 993.4,192 990.6,192.3" stroke-width="1.1"/>
<!-- AUTO pill, trash -->
<rect x="1000.8" y="124.9" width="21" height="9.8" rx="4.9" fill="#231815" stroke="none"/>
<g fill="#231815" stroke="none"><rect x="1024.2" y="126.2" width="5.8" height="8" rx="0.7"/><rect x="1023.6" y="124.4" width="7" height="1.2" transform="rotate(-12 1027 125)"/><rect x="1026" y="122.8" width="2.4" height="1.2" transform="rotate(-12 1027 123.4)"/></g>
<path d="M1026.1,127.4 v5.8 M1028.1,127.4 v5.8" stroke="#fff" stroke-width="0.7"/>
<!-- flash -->
<path d="M1042.6,144.2 L1039.4,151.2 L1042.2,151.2 L1040.2,157.2 L1046.8,149 L1043.8,149 L1046.6,144.2 Z" fill="#231815" stroke="#231815" stroke-width="0.5"/>
<!-- date stamp icon -->
<path d="M991.5,149.5 V145 H999.8 V154.5 H996.5" stroke-width="0.9"/>
<path d="M995.3,147 h0.1 M997.3,147 h0.1 M995.3,149 h0.1 M997.3,149 h0.1 M997.3,151 h0.1 M997.3,153 h0.1" stroke-width="1" stroke-linecap="round"/>
<circle cx="992.8" cy="153.6" r="2.9" stroke-width="0.9" fill="#fff"/><path d="M991.6,153.4 l1,1.1 l1.6,-2" stroke-width="0.7"/>
</g>
<g font-family="Liberation Sans, sans-serif" font-weight="bold" fill="#231815" text-anchor="middle">
<text x="1011.3" y="133" font-size="8.4" fill="#fff" textLength="17" lengthAdjust="spacingAndGlyphs">AUTO</text>
<text x="1019.8" y="151.8" font-size="9.2" font-weight="normal" stroke="#231815" stroke-width="0.25" textLength="23.4" lengthAdjust="spacingAndGlyphs">FUNC.</text>
<text x="1018.8" y="159.8" font-size="9.2" font-weight="normal" stroke="#231815" stroke-width="0.25" textLength="14" lengthAdjust="spacingAndGlyphs">SET</text>
<text x="1019.2" y="176.5" font-size="9" textLength="21.6" lengthAdjust="spacingAndGlyphs">INFO.</text>
<text x="1036" y="207.9" font-size="9.2" textLength="21.8" lengthAdjust="spacingAndGlyphs">MENU</text>
</g>
<!-- leaders -->
<g stroke="#b98a66" stroke-width="1.5" fill="none">
<path d="M973.5,83.75 H987"/><path d="M1063,96.6 H1047.3"/><path d="M973.5,120.2 H1018.5"/><path d="M1063,120.2 H1052 L1029,140.5"/>
<path d="M973.5,149.9 H986.5"/><path d="M1063,149.9 H1047.5"/><path d="M1063,180 H1018"/><path d="M973.5,190 H986.5"/>
<path d="M973.5,217 H987"/><path d="M1063,204.8 H1049.5"/>
<path d="M873.5,202.7 H957"/>
</g>
<g fill="#ae7d59">
<circle cx="987.3" cy="83.75" r="2"/><circle cx="1047" cy="96.6" r="2"/><circle cx="1018.7" cy="120.2" r="2"/><circle cx="1028.8" cy="140.6" r="2"/>
<circle cx="986.6" cy="149.9" r="2"/><circle cx="1047.5" cy="149.9" r="2"/><circle cx="1017.8" cy="180" r="2"/><circle cx="987" cy="190" r="1.8"/>
<circle cx="987.2" cy="217" r="2"/><circle cx="1049.3" cy="204.8" r="2"/>
</g>
</g>

<g font-family="Liberation Sans, sans-serif" font-size="10.4" text-anchor="middle" stroke="#b07f5b" stroke-width="0.5">
<circle cx="68" cy="223.7" r="6.5" fill="#fff" stroke="#bd977a" stroke-width="1.1"/><text x="68" y="227.5" fill="#b07f5b">1</text>
<circle cx="101.3" cy="81.3" r="6.5" fill="#fff" stroke="#bd977a" stroke-width="1.1"/><text x="101.3" y="85.1" fill="#b07f5b">2</text>
<circle cx="115.8" cy="81.3" r="6.5" fill="#fff" stroke="#bd977a" stroke-width="1.1"/><text x="115.8" y="85.1" fill="#b07f5b">3</text>
<circle cx="135.5" cy="81.3" r="6.5" fill="#fff" stroke="#bd977a" stroke-width="1.1"/><text x="135.5" y="85.1" fill="#b07f5b">4</text>
<circle cx="161.2" cy="81.3" r="6.5" fill="#fff" stroke="#bd977a" stroke-width="1.1"/><text x="161.2" y="85.1" fill="#b07f5b">5</text>
<circle cx="175.3" cy="81.3" r="6.5" fill="#fff" stroke="#bd977a" stroke-width="1.1"/><text x="175.3" y="85.1" fill="#b07f5b">6</text>
<circle cx="208" cy="81.3" r="6.5" fill="#fff" stroke="#bd977a" stroke-width="1.1"/><text x="208" y="85.1" fill="#b07f5b">7</text>
<circle cx="253.8" cy="81.3" r="6.5" fill="#fff" stroke="#bd977a" stroke-width="1.1"/><text x="253.8" y="85.1" fill="#b07f5b">8</text>
<circle cx="336.6" cy="273.1" r="6.5" fill="#fff" stroke="#bd977a" stroke-width="1.1"/><text x="336.6" y="276.90000000000003" fill="#b07f5b">9</text>
<circle cx="390.5" cy="273.1" r="6.5" fill="#fff" stroke="#bd977a" stroke-width="1.1"/><text x="390.5" y="276.90000000000003" fill="#b07f5b" textLength="9.4" lengthAdjust="spacingAndGlyphs">10</text>
<circle cx="484" cy="273.1" r="6.5" fill="#fff" stroke="#bd977a" stroke-width="1.1"/><text x="484" y="276.90000000000003" fill="#b07f5b" textLength="9.4" lengthAdjust="spacingAndGlyphs">11</text>
<circle cx="746.7" cy="43.7" r="6.5" fill="#fff" stroke="#bd977a" stroke-width="1.1"/><text x="746.7" y="47.5" fill="#b07f5b">1</text>
<circle cx="926.2" cy="43.7" r="6.5" fill="#fff" stroke="#bd977a" stroke-width="1.1"/><text x="926.2" y="47.5" fill="#b07f5b">2</text>
<circle cx="967.2" cy="83.75" r="6.5" fill="#fff" stroke="#bd977a" stroke-width="1.1"/><text x="967.2" y="87.55" fill="#b07f5b">3</text>
<circle cx="967.2" cy="120.2" r="6.5" fill="#fff" stroke="#bd977a" stroke-width="1.1"/><text x="967.2" y="124.0" fill="#b07f5b">4</text>
<circle cx="967.2" cy="149.9" r="6.5" fill="#fff" stroke="#bd977a" stroke-width="1.1"/><text x="967.2" y="153.70000000000002" fill="#b07f5b">5</text>
<circle cx="967.2" cy="190" r="6.5" fill="#fff" stroke="#bd977a" stroke-width="1.1"/><text x="967.2" y="193.8" fill="#b07f5b">6</text>
<circle cx="967.2" cy="217" r="6.5" fill="#fff" stroke="#bd977a" stroke-width="1.1"/><text x="967.2" y="220.8" fill="#b07f5b">7</text>
<circle cx="1069.3" cy="96.6" r="6.5" fill="#fff" stroke="#bd977a" stroke-width="1.1"/><text x="1069.3" y="100.39999999999999" fill="#b07f5b">8</text>
<circle cx="1069.3" cy="120.2" r="6.5" fill="#fff" stroke="#bd977a" stroke-width="1.1"/><text x="1069.3" y="124.0" fill="#b07f5b">9</text>
<circle cx="1069.3" cy="149.9" r="6.5" fill="#fff" stroke="#bd977a" stroke-width="1.1"/><text x="1069.3" y="153.70000000000002" fill="#b07f5b" textLength="9.4" lengthAdjust="spacingAndGlyphs">10</text>
<circle cx="1069.3" cy="180" r="6.5" fill="#fff" stroke="#bd977a" stroke-width="1.1"/><text x="1069.3" y="183.8" fill="#b07f5b" textLength="9.4" lengthAdjust="spacingAndGlyphs">11</text>
<circle cx="1069.3" cy="205" r="6.5" fill="#fff" stroke="#bd977a" stroke-width="1.1"/><text x="1069.3" y="208.8" fill="#b07f5b" textLength="9.4" lengthAdjust="spacingAndGlyphs">12</text>
</g>

</svg>
</body>
</html>
